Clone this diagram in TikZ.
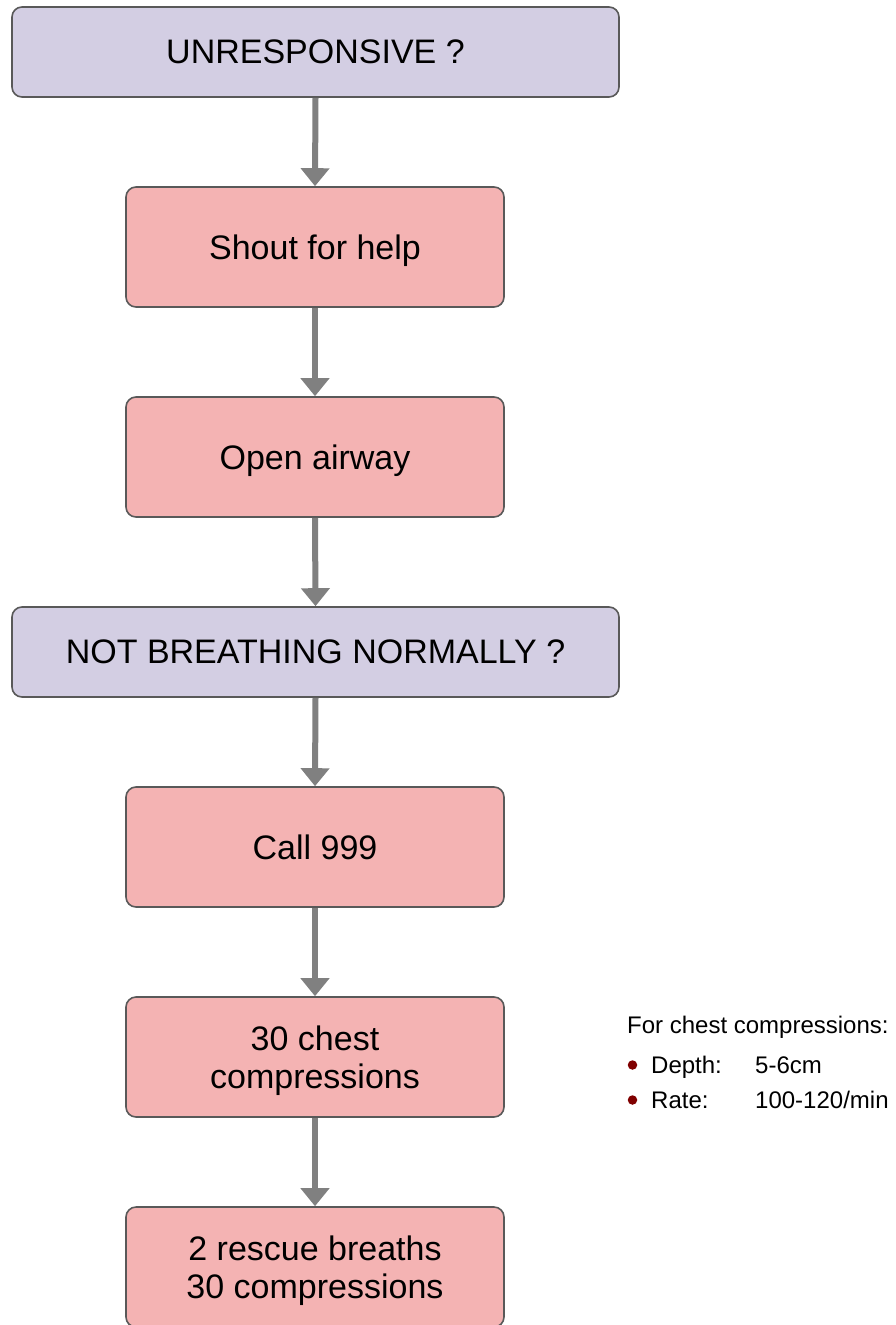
\documentclass[tikz,border=0pt]{standalone}
\usepackage{fontspec}
\setmainfont{Liberation Sans}
\usetikzlibrary{arrows.meta}
\definecolor{qbox}{RGB}{211,206,227}
\definecolor{abox}{RGB}{244,179,179}
\definecolor{edgec}{RGB}{89,89,89}
\definecolor{arrowc}{RGB}{128,128,128}
\definecolor{dotc}{RGB}{128,0,0}
\tikzset{
  basebox/.style={rectangle, rounded corners=10pt, draw=edgec, line width=1.6pt,
    inner sep=0pt, align=center, text depth=-7pt,
    font=\fontsize{34}{38}\selectfont},
  qstep/.style={basebox, fill=qbox, minimum width=607pt, minimum height=90pt},
  astep/.style={basebox, fill=abox, minimum width=378pt, minimum height=120pt},
  flow/.style={draw=arrowc, line width=6pt, -{Triangle[width=28pt,length=18pt]}, arrowc},
  notetext/.style={anchor=base west, inner sep=0pt, font=\fontsize{24}{28}\selectfont},
  bulletdot/.style={circle, fill=dotc, inner sep=0pt, minimum size=9.5pt}
}
\begin{document}
\begin{tikzpicture}[x=1pt,y=-1pt]
\useasboundingbox (0,0) rectangle (896,1325);
\clip (0,0) rectangle (896,1325);
\node[qstep] (b1) at (315.5,52) {UNRESPONSIVE ?};
\node[astep] (b2) at (315,247) {Shout for help};
\node[astep] (b3) at (315,457) {Open airway};
\node[qstep] (b4) at (315.5,652) {NOT BREATHING NORMALLY ?};
\node[astep] (b5) at (315,847) {Call 999};
\node[astep] (b6) at (315,1057) {30 chest\\compressions};
\node[astep] (b7) at (315,1267) {2 rescue breaths\\30 compressions};
\draw[flow] (b1.south) -- (b2.north);
\draw[flow] (b2.south) -- (b3.north);
\draw[flow] (b3.south) -- (b4.north);
\draw[flow] (b4.south) -- (b5.north);
\draw[flow] (b5.south) -- (b6.north);
\draw[flow] (b6.south) -- (b7.north);
\node[notetext] (note) at (627,1033) {For chest compressions:};
\node[bulletdot] (dot1) at (632.5,1065) {};
\node[notetext] (depthlab) at (651,1073) {Depth:};
\node[notetext] (depthval) at (755,1073) {5-6cm};
\node[bulletdot] (dot2) at (632.5,1100) {};
\node[notetext] (ratelab) at (651,1108) {Rate:};
\node[notetext] (rateval) at (755,1108) {100-120/min};
\end{tikzpicture}
\end{document}
